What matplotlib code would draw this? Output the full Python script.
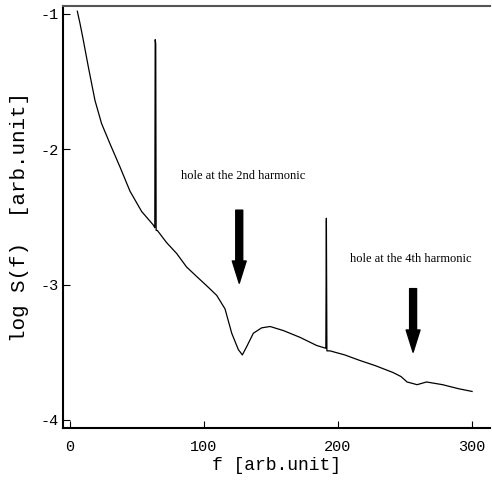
import matplotlib
matplotlib.use("Agg")
import matplotlib.pyplot as plt

# --- data ---
f_vals = [5.5, 7.5, 9.9, 13.7, 18.7, 23.6, 29.9, 37.3, 44.8, 53.5, 62.2, 63.3,
          63.6, 64.0, 64.3,
          65.2, 72.1, 79.6, 87, 94.5, 103.2, 109.5, 115.7, 120.7, 125.6, 128.6, 131.8, 136.8,
          143, 149.3, 159.2, 171.6, 184, 190.6,
          190.9, 191.3, 191.7,
          194, 205, 216, 228, 241, 247, 251.5, 259, 266, 272, 278, 290, 300]
logS = [-0.98, -1.07, -1.19, -1.39, -1.64, -1.81, -1.96, -2.13, -2.31, -2.46, -2.56, -2.58,
        -1.19, -1.22, -2.60,
        -2.60, -2.69, -2.77, -2.87, -2.94, -3.02, -3.08, -3.18, -3.36, -3.48, -3.52, -3.46, -3.36,
        -3.32, -3.31, -3.34, -3.39, -3.45, -3.47,
        -3.47, -2.51, -3.49,
        -3.49, -3.52, -3.56, -3.60, -3.65, -3.68, -3.72, -3.74, -3.72, -3.73, -3.74, -3.77, -3.79]

x_ticks = [0, 100, 200, 300]
x_ticklabels = ["0", "100", "200", "300"]
y_ticks = [-1, -2, -3, -4]
y_ticklabels = ["-1", "-2", "-3", "-4"]

arrows = [(126.3, -2.45, -2.99), (256, -3.03, -3.5)]
notes = [("hole at the 2nd harmonic", 83, -2.2), ("hole at the 4th harmonic", 209, -2.81)]

fig = plt.figure(figsize=(4.92, 4.88), dpi=100)
ax = fig.add_axes([0.128, 0.123, 0.868, 0.865])

ax.plot(f_vals, logS, color="black", lw=0.9)

ax.set_xlim(-5.2, 313.4)
ax.set_ylim(-4.06, -0.94)

mono = "Liberation Mono"
ax.set_xticks(x_ticks)
ax.set_xticklabels(x_ticklabels, family=mono, fontsize=11)
ax.set_yticks(y_ticks)
ax.set_yticklabels(y_ticklabels, family=mono, fontsize=11)
ax.tick_params(axis="x", direction="in", length=5, pad=9)
ax.tick_params(axis="y", direction="in", length=5, pad=3)

for s in ["left", "bottom", "top"]:
    ax.spines[s].set_linewidth(1.5)
ax.spines["top"].set_color("#555555")
ax.spines["right"].set_visible(False)

ax.set_xlabel("f [arb.unit]", family=mono, fontsize=13, labelpad=2)
ax.set_ylabel("log S(f)  [arb.unit]", family=mono, fontsize=15, labelpad=8)

for x, y0, y1 in arrows:
    ax.annotate("", xy=(x, y1), xytext=(x, y0),
                arrowprops=dict(width=5, headwidth=10, headlength=16,
                                color="black", shrink=0))

for txt, x, y in notes:
    ax.text(x, y, txt, family="Liberation Serif", fontsize=9,
            ha="left", va="center")

fig.savefig("out.png", dpi=100)
